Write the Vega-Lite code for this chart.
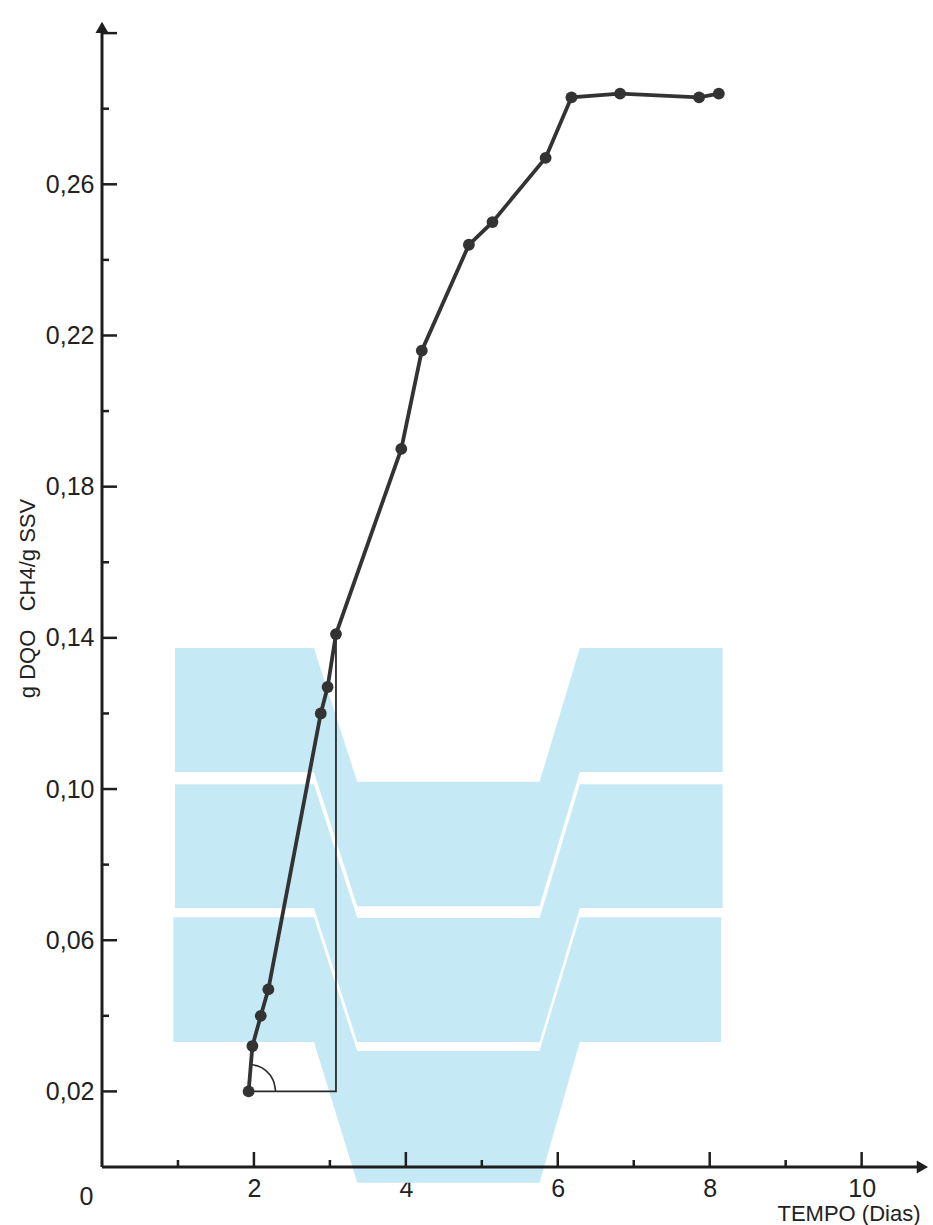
{
  "$schema": "https://vega.github.io/schema/vega-lite/v6.json",
  "width": 828,
  "height": 1149,
  "autosize": {"type": "none"},
  "padding": {"left": 102, "top": 18, "right": 3, "bottom": 58},
  "background": "white",
  "config": {"view": {"stroke": null}},
  "datasets": {
    "bands": [
      {"band": "A", "t": 0.96, "lo": 0.1045, "hi": 0.1373},
      {"band": "A", "t": 2.79, "lo": 0.1045, "hi": 0.1373},
      {"band": "A", "t": 3.36, "lo": 0.0690, "hi": 0.1019},
      {"band": "A", "t": 5.76, "lo": 0.0690, "hi": 0.1019},
      {"band": "A", "t": 6.29, "lo": 0.1045, "hi": 0.1373},
      {"band": "A", "t": 8.17, "lo": 0.1045, "hi": 0.1373},
      {"band": "B", "t": 0.96, "lo": 0.0685, "hi": 0.1013},
      {"band": "B", "t": 2.79, "lo": 0.0685, "hi": 0.1013},
      {"band": "B", "t": 3.36, "lo": 0.0331, "hi": 0.0659},
      {"band": "B", "t": 5.76, "lo": 0.0331, "hi": 0.0659},
      {"band": "B", "t": 6.29, "lo": 0.0685, "hi": 0.1013},
      {"band": "B", "t": 8.17, "lo": 0.0685, "hi": 0.1013},
      {"band": "C", "t": 0.94, "lo": 0.0331, "hi": 0.0661},
      {"band": "C", "t": 2.79, "lo": 0.0331, "hi": 0.0661},
      {"band": "C", "t": 3.36, "lo": -0.0042, "hi": 0.0307},
      {"band": "C", "t": 5.76, "lo": -0.0042, "hi": 0.0307},
      {"band": "C", "t": 6.29, "lo": 0.0331, "hi": 0.0661},
      {"band": "C", "t": 8.15, "lo": 0.0331, "hi": 0.0661}
    ],
    "axislines": [
      {"t": 0, "t2": 0, "y": 0, "y2": 0.3},
      {"t": 0, "t2": 10.75, "y": 0, "y2": 0}
    ],
    "arrows": [
      {"dir": "up", "t": 0, "y": 0.3015},
      {"dir": "right", "t": 10.8, "y": 0}
    ],
    "yticks": [
      {"v": 0.02, "kind": "major"}, {"v": 0.04, "kind": "minor"},
      {"v": 0.06, "kind": "major"}, {"v": 0.08, "kind": "minor"},
      {"v": 0.10, "kind": "major"}, {"v": 0.12, "kind": "minor"},
      {"v": 0.14, "kind": "major"}, {"v": 0.16, "kind": "minor"},
      {"v": 0.18, "kind": "major"}, {"v": 0.20, "kind": "minor"},
      {"v": 0.22, "kind": "major"}, {"v": 0.24, "kind": "minor"},
      {"v": 0.26, "kind": "major"}, {"v": 0.28, "kind": "minor"},
      {"v": 0.30, "kind": "major"}
    ],
    "xticks": [
      {"v": 1, "kind": "minor"}, {"v": 2, "kind": "major"},
      {"v": 3, "kind": "minor"}, {"v": 4, "kind": "major"},
      {"v": 5, "kind": "minor"}, {"v": 6, "kind": "major"},
      {"v": 7, "kind": "minor"}, {"v": 8, "kind": "major"},
      {"v": 9, "kind": "minor"}, {"v": 10, "kind": "major"}
    ],
    "triangle": [
      {"i": 1, "t": 1.93, "y": 0.020},
      {"i": 2, "t": 3.08, "y": 0.020},
      {"i": 3, "t": 3.08, "y": 0.141}
    ],
    "arc": [
      {"i": 1, "t": 2.285, "y": 0.0200},
      {"i": 2, "t": 2.252, "y": 0.0230},
      {"i": 3, "t": 2.158, "y": 0.0255},
      {"i": 4, "t": 2.051, "y": 0.0267},
      {"i": 5, "t": 1.961, "y": 0.0271}
    ],
    "curve": [
      {"t": 1.93, "y": 0.020},
      {"t": 1.98, "y": 0.032},
      {"t": 2.09, "y": 0.040},
      {"t": 2.19, "y": 0.047},
      {"t": 2.88, "y": 0.120},
      {"t": 2.97, "y": 0.127},
      {"t": 3.08, "y": 0.141},
      {"t": 3.94, "y": 0.190},
      {"t": 4.21, "y": 0.216},
      {"t": 4.83, "y": 0.244},
      {"t": 5.14, "y": 0.250},
      {"t": 5.84, "y": 0.267},
      {"t": 6.18, "y": 0.283},
      {"t": 6.82, "y": 0.284},
      {"t": 7.86, "y": 0.283},
      {"t": 8.12, "y": 0.284}
    ]
  },
  "layer": [
    {
      "data": {"name": "bands"},
      "mark": {"type": "area", "color": "#c6e9f6", "opacity": 1},
      "encoding": {
        "x": {
          "field": "t", "type": "quantitative",
          "scale": {"domain": [0, 10.9], "nice": false, "zero": false},
          "axis": {
            "values": [0, 2, 4, 6, 8, 10],
            "format": "d",
            "domain": false, "ticks": false, "grid": false,
            "labelFont": "Liberation Sans", "labelFontSize": 25, "labelColor": "#222",
            "labelPadding": {"condition": {"test": "datum.value === 0", "value": 17}, "value": 9},
            "labelOffset": {"condition": {"test": "datum.value === 0", "value": -16}, "value": 0},
            "labelFlush": false,
            "title": "TEMPO (Dias)",
            "titleFont": "Liberation Sans", "titleFontSize": 22, "titleFontWeight": "normal", "titleColor": "#222",
            "titleX": 818, "titleY": 46, "titleAlign": "right", "titleBaseline": "middle"
          }
        },
        "y": {
          "field": "lo", "type": "quantitative",
          "scale": {"domain": [0, 0.304], "nice": false, "zero": false},
          "axis": {
            "values": [0.02, 0.06, 0.10, 0.14, 0.18, 0.22, 0.26],
            "labelExpr": "replace(format(datum.value, '.2f'), '.', ',')",
            "domain": false, "ticks": false, "grid": false,
            "labelFont": "Liberation Sans", "labelFontSize": 25, "labelColor": "#222",
            "labelPadding": 8,
            "title": "g DQO\u00a0\u00a0 CH4/g SSV",
            "titleFont": "Liberation Sans", "titleFontSize": 22, "titleFontWeight": "normal", "titleColor": "#222",
            "titleX": -75, "titleY": 580, "titleAngle": 270, "titleAlign": "center", "titleBaseline": "middle"
          }
        },
        "y2": {"field": "hi"},
        "detail": {"field": "band"}
      }
    },
    {
      "data": {"name": "axislines"},
      "mark": {"type": "rule", "color": "#1e1e1e", "strokeWidth": 3},
      "encoding": {
        "x": {"field": "t", "type": "quantitative"},
        "x2": {"field": "t2"},
        "y": {"field": "y", "type": "quantitative"},
        "y2": {"field": "y2"}
      }
    },
    {
      "data": {"name": "arrows"},
      "transform": [{"filter": "datum.dir === 'up'"}],
      "mark": {"type": "point", "shape": "triangle-up", "filled": true, "color": "#1e1e1e", "size": 170, "opacity": 1},
      "encoding": {
        "x": {"field": "t", "type": "quantitative"},
        "y": {"field": "y", "type": "quantitative"}
      }
    },
    {
      "data": {"name": "arrows"},
      "transform": [{"filter": "datum.dir === 'right'"}],
      "mark": {"type": "point", "shape": "triangle-right", "filled": true, "color": "#1e1e1e", "size": 170, "opacity": 1},
      "encoding": {
        "x": {"field": "t", "type": "quantitative"},
        "y": {"field": "y", "type": "quantitative"}
      }
    },
    {
      "data": {"name": "yticks"},
      "transform": [{"filter": "datum.kind === 'major'"}],
      "mark": {"type": "tick", "orient": "horizontal", "size": 15, "thickness": 2.5, "xOffset": 7.5, "color": "#1e1e1e", "opacity": 1},
      "encoding": {
        "x": {"datum": 0, "type": "quantitative"},
        "y": {"field": "v", "type": "quantitative"}
      }
    },
    {
      "data": {"name": "yticks"},
      "transform": [{"filter": "datum.kind === 'minor'"}],
      "mark": {"type": "tick", "orient": "horizontal", "size": 7, "thickness": 2.5, "xOffset": 3.5, "color": "#1e1e1e", "opacity": 1},
      "encoding": {
        "x": {"datum": 0, "type": "quantitative"},
        "y": {"field": "v", "type": "quantitative"}
      }
    },
    {
      "data": {"name": "xticks"},
      "transform": [{"filter": "datum.kind === 'major'"}],
      "mark": {"type": "tick", "orient": "vertical", "size": 15, "thickness": 2.5, "yOffset": -7.5, "color": "#1e1e1e", "opacity": 1},
      "encoding": {
        "x": {"field": "v", "type": "quantitative"},
        "y": {"datum": 0, "type": "quantitative"}
      }
    },
    {
      "data": {"name": "xticks"},
      "transform": [{"filter": "datum.kind === 'minor'"}],
      "mark": {"type": "tick", "orient": "vertical", "size": 7, "thickness": 2.5, "yOffset": -3.5, "color": "#1e1e1e", "opacity": 1},
      "encoding": {
        "x": {"field": "v", "type": "quantitative"},
        "y": {"datum": 0, "type": "quantitative"}
      }
    },
    {
      "data": {"name": "triangle"},
      "mark": {"type": "line", "color": "#2a2a2a", "strokeWidth": 1.8},
      "encoding": {
        "x": {"field": "t", "type": "quantitative"},
        "y": {"field": "y", "type": "quantitative"},
        "order": {"field": "i"}
      }
    },
    {
      "data": {"name": "arc"},
      "mark": {"type": "line", "color": "#2a2a2a", "strokeWidth": 1.6, "interpolate": "natural"},
      "encoding": {
        "x": {"field": "t", "type": "quantitative"},
        "y": {"field": "y", "type": "quantitative"},
        "order": {"field": "i"}
      }
    },
    {
      "data": {"name": "curve"},
      "mark": {"type": "line", "color": "#333333", "strokeWidth": 3.8},
      "encoding": {
        "x": {"field": "t", "type": "quantitative"},
        "y": {"field": "y", "type": "quantitative"}
      }
    },
    {
      "data": {"name": "curve"},
      "mark": {"type": "point", "filled": true, "color": "#333333", "size": 140, "opacity": 1},
      "encoding": {
        "x": {"field": "t", "type": "quantitative"},
        "y": {"field": "y", "type": "quantitative"}
      }
    }
  ]
}
